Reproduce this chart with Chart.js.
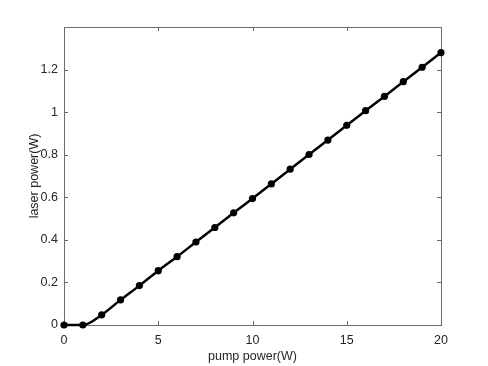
<!DOCTYPE html>
<html>
<head>
<meta charset="utf-8">
<script src="https://cdn.jsdelivr.net/npm/chart.js@4/dist/chart.umd.min.js"></script>
<style>
  html, body { margin: 0; padding: 0; background: #fff; }
  #wrap { width: 488px; height: 366px; }
</style>
</head>
<body>
<div id="wrap"><canvas id="laserChart" width="488" height="366"></canvas></div>
<script>
// pump power (W) and measured laser power (W)
const pumpPower = [0, 1, 2, 3, 4, 5, 6, 7, 8, 9, 10, 11, 12, 13, 14, 15, 16, 17, 18, 19, 20];
const laserPower = [0, 0, 0.048, 0.118, 0.185, 0.255, 0.321, 0.39, 0.458, 0.527, 0.594,
                    0.663, 0.732, 0.801, 0.869, 0.938, 1.007, 1.074, 1.143, 1.211, 1.28];

const xTicks = [0, 5, 10, 15, 20];
const yTicks = [0, 0.2, 0.4, 0.6, 0.8, 1, 1.2];
const yTickLabels = ["0", "0.2", "0.4", "0.6", "0.8", "1", "1.2"];

const textColor = "#262626";
const boxColor = "#6a6a6a";
const font = { family: "Liberation Sans", size: 12.5 };

// matlab-like box with inward ticks on every side
const boxTicks = {
    id: "boxTicks",
    beforeDatasetsDraw(chart) {
        const { ctx, chartArea: a, scales } = chart;
        ctx.save();
        ctx.strokeStyle = boxColor;
        ctx.lineWidth = 1;
        ctx.strokeRect(Math.round(a.left) + 0.5, Math.round(a.top) + 0.5,
                       Math.round(a.right - a.left), Math.round(a.bottom - a.top));
        const len = 4;
        ctx.beginPath();
        xTicks.forEach(v => {
            let px = Math.round(scales.x.getPixelForValue(v)) + 0.5;
            ctx.moveTo(px, a.bottom); ctx.lineTo(px, a.bottom - len);
            ctx.moveTo(px, a.top); ctx.lineTo(px, a.top + len);
        });
        yTicks.forEach(v => {
            let py = Math.round(scales.y.getPixelForValue(v)) + 0.5;
            ctx.moveTo(a.left, py); ctx.lineTo(a.left + len, py);
            ctx.moveTo(a.right, py); ctx.lineTo(a.right - len, py);
        });
        ctx.stroke();
        ctx.restore();
    }
};

new Chart(document.getElementById("laserChart"), {
    type: "line",
    data: {
        datasets: [{
            data: pumpPower.map((p, i) => ({ x: p, y: laserPower[i] })),
            borderColor: "#000",
            backgroundColor: "#000",
            borderWidth: 2.5,
            pointRadius: 3.6,
            pointBorderWidth: 0,
            pointHoverRadius: 3.6,
            cubicInterpolationMode: "monotone",
            clip: false
        }]
    },
    options: {
        responsive: false,
        animation: false,
        layout: { padding: { top: 27, right: 47, bottom: 0, left: 0 } },
        plugins: { legend: { display: false }, tooltip: { enabled: false } },
        scales: {
            x: {
                type: "linear",
                min: 0,
                max: 20,
                grid: { display: false, drawTicks: false },
                border: { display: false },
                afterBuildTicks: s => { s.ticks = xTicks.map(v => ({ value: v })); },
                afterFit: s => { s.height = 41; },
                ticks: { color: textColor, padding: 8, maxRotation: 0, font: font },
                title: {
                    display: true,
                    text: "pump power(W)",
                    color: textColor,
                    padding: { top: 0, bottom: 2 },
                    font: font
                }
            },
            y: {
                type: "linear",
                min: 0,
                max: 1.4,
                grid: { display: false, drawTicks: false },
                border: { display: false },
                afterBuildTicks: s => { s.ticks = yTicks.map(v => ({ value: v })); },
                afterFit: s => { s.width = 64; },
                ticks: {
                    color: textColor,
                    padding: 6,
                    font: font,
                    callback: (v) => {
                        const i = yTicks.findIndex(t => Math.abs(t - v) < 1e-9);
                        return i >= 0 ? yTickLabels[i] : "";
                    }
                },
                title: {
                    display: true,
                    text: "laser power(W)",
                    color: textColor,
                    padding: { top: 27, bottom: 0 },
                    font: font
                }
            }
        }
    },
    plugins: [boxTicks]
});
</script>
</body>
</html>
